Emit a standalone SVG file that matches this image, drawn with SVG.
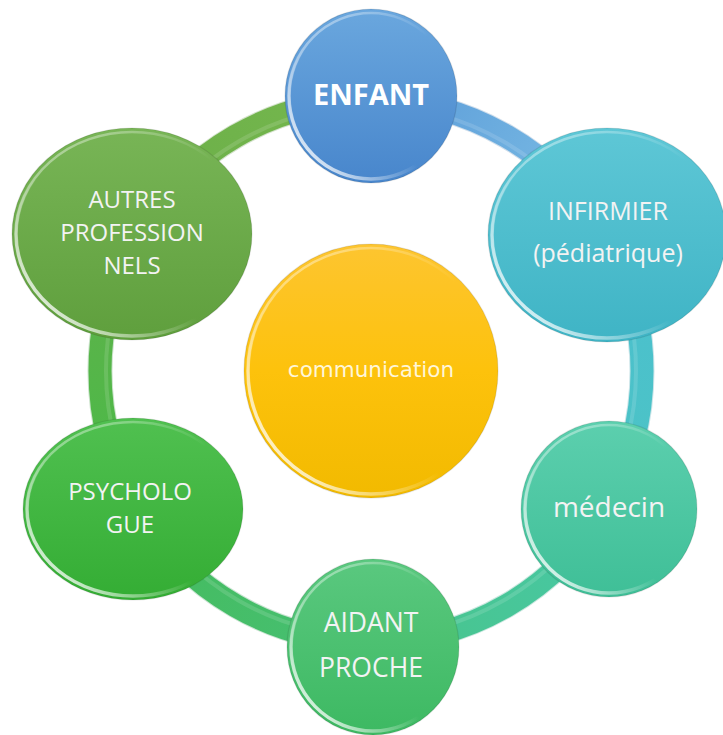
<svg xmlns="http://www.w3.org/2000/svg" width="723" height="735" viewBox="0 0 723 735">
<style>
.ring-edge{fill:none;stroke-width:25;stroke-opacity:0.25}
.ring{fill:none;stroke-width:23}
.ring-hi{fill:none;stroke:#ffffff;stroke-width:4;stroke-opacity:0.13}
.edge{fill:none;stroke:#000000;stroke-opacity:0.1;stroke-width:1.2}
.rim{fill:none;stroke:url(#rimG);stroke-width:3.5}
.rimtop{fill:none;stroke:url(#rimTop);stroke-width:2.5}
.lbl{font-family:"Open Sans","Liberation Sans",sans-serif;font-size:25px;fill:#f3f3f3;text-anchor:middle}
.bold{font-weight:bold;font-size:29px;fill:#ffffff}
.com{font-family:"DejaVu Sans","Liberation Sans",sans-serif;font-size:21.5px;fill:#fff6d8;text-anchor:middle}
</style>
<defs>
<linearGradient id="rimG" x1="0" y1="0.85" x2="0.7" y2="0.2">
<stop offset="0" stop-color="#ffffff" stop-opacity="0.95"/>
<stop offset="0.35" stop-color="#ffffff" stop-opacity="0.3"/>
<stop offset="0.55" stop-color="#ffffff" stop-opacity="0"/>
</linearGradient>
<linearGradient id="rimTop" x1="0.3" y1="0" x2="0.6" y2="0.35">
<stop offset="0" stop-color="#ffffff" stop-opacity="0.4"/>
<stop offset="1" stop-color="#ffffff" stop-opacity="0"/>
</linearGradient>
<linearGradient id="gEnf" x1="0" y1="0" x2="0" y2="1"><stop offset="0" stop-color="#6aa7de"/><stop offset="1" stop-color="#4886cc"/></linearGradient>
<linearGradient id="gInf" x1="0" y1="0" x2="0" y2="1"><stop offset="0" stop-color="#5ec7d6"/><stop offset="1" stop-color="#3fb4c5"/></linearGradient>
<linearGradient id="gMed" x1="0" y1="0" x2="0" y2="1"><stop offset="0" stop-color="#5ccfae"/><stop offset="1" stop-color="#3fbf97"/></linearGradient>
<linearGradient id="gAid" x1="0" y1="0" x2="0" y2="1"><stop offset="0" stop-color="#5ac87f"/><stop offset="1" stop-color="#3db962"/></linearGradient>
<linearGradient id="gPsy" x1="0" y1="0" x2="0" y2="1"><stop offset="0" stop-color="#50c050"/><stop offset="1" stop-color="#34ad34"/></linearGradient>
<linearGradient id="gAut" x1="0" y1="0" x2="0" y2="1"><stop offset="0" stop-color="#78b556"/><stop offset="1" stop-color="#5f9f3d"/></linearGradient>
<linearGradient id="gCom" x1="0" y1="0" x2="0" y2="1"><stop offset="0" stop-color="#fdc530"/><stop offset="0.5" stop-color="#fdc20c"/><stop offset="1" stop-color="#f2ba00"/></linearGradient>
<linearGradient id="s0" gradientUnits="userSpaceOnUse" x1="371" y1="100" x2="605.7" y2="235.5"><stop offset="0" stop-color="#5b9bd8"/><stop offset="1" stop-color="#7ec0e6"/></linearGradient>
<linearGradient id="s1" gradientUnits="userSpaceOnUse" x1="605.7" y1="235.5" x2="605.7" y2="506.5"><stop offset="0" stop-color="#4bbfd0"/><stop offset="1" stop-color="#4cc4c4"/></linearGradient>
<linearGradient id="s2" gradientUnits="userSpaceOnUse" x1="605.7" y1="506.5" x2="371" y2="642"><stop offset="0" stop-color="#48c8a6"/><stop offset="1" stop-color="#48c48a"/></linearGradient>
<linearGradient id="s3" gradientUnits="userSpaceOnUse" x1="371" y1="642" x2="136.3" y2="506.5"><stop offset="0" stop-color="#46c074"/><stop offset="1" stop-color="#45bb5c"/></linearGradient>
<linearGradient id="s4" gradientUnits="userSpaceOnUse" x1="136.3" y1="506.5" x2="136.3" y2="235.5"><stop offset="0" stop-color="#48bb48"/><stop offset="1" stop-color="#62b04a"/></linearGradient>
<linearGradient id="s5" gradientUnits="userSpaceOnUse" x1="136.3" y1="235.5" x2="371" y2="100"><stop offset="0" stop-color="#6aae48"/><stop offset="1" stop-color="#76b84e"/></linearGradient>
</defs>
<rect width="723" height="735" fill="#ffffff"/>
<g id="connectors">
<path class="ring-edge" stroke="#3a78b0" d="M371,100 A271,271 0 0 1 605.7,235.5"/>
<path class="ring" stroke="url(#s0)" d="M371,100 A271,271 0 0 1 605.7,235.5"/>
<path class="ring-hi" d="M371,106 A265,265 0 0 1 600.5,238.5"/>
<path class="ring-edge" stroke="#2f97a6" d="M605.7,235.5 A271,271 0 0 1 605.7,506.5"/>
<path class="ring" stroke="url(#s1)" d="M605.7,235.5 A271,271 0 0 1 605.7,506.5"/>
<path class="ring-hi" d="M600.5,238.5 A265,265 0 0 1 600.5,503.5"/>
<path class="ring-edge" stroke="#2c9f80" d="M605.7,506.5 A271,271 0 0 1 371,642"/>
<path class="ring" stroke="url(#s2)" d="M605.7,506.5 A271,271 0 0 1 371,642"/>
<path class="ring-hi" d="M600.5,503.5 A265,265 0 0 1 371,636"/>
<path class="ring-edge" stroke="#2a954b" d="M371,642 A271,271 0 0 1 136.3,506.5"/>
<path class="ring" stroke="url(#s3)" d="M371,642 A271,271 0 0 1 136.3,506.5"/>
<path class="ring-hi" d="M371,636 A265,265 0 0 1 141.5,503.5"/>
<path class="ring-edge" stroke="#2f8f2f" d="M136.3,506.5 A271,271 0 0 1 136.3,235.5"/>
<path class="ring" stroke="url(#s4)" d="M136.3,506.5 A271,271 0 0 1 136.3,235.5"/>
<path class="ring-hi" d="M141.5,503.5 A265,265 0 0 1 141.5,238.5"/>
<path class="ring-edge" stroke="#4f8a30" d="M136.3,235.5 A271,271 0 0 1 371,100"/>
<path class="ring" stroke="url(#s5)" d="M136.3,235.5 A271,271 0 0 1 371,100"/>
<path class="ring-hi" d="M141.5,238.5 A265,265 0 0 1 371,106"/>
</g>
<g id="node-communication">
<circle cx="371" cy="371" r="127" fill="url(#gCom)"/>
<circle class="edge" cx="371" cy="371" r="127"/>
<circle class="rim" cx="371" cy="371" r="123"/>
<circle class="rimtop" cx="371" cy="371" r="123"/>
<text class="com" x="371" y="377">communication</text>
</g>
<g id="node-enfant">
<ellipse cx="371" cy="96" rx="86" ry="87" fill="url(#gEnf)"/>
<ellipse class="edge" cx="371" cy="96" rx="86" ry="87"/>
<ellipse class="rim" cx="371" cy="96" rx="82" ry="83"/>
<ellipse class="rimtop" cx="371" cy="96" rx="82" ry="83"/>
<text class="lbl bold" x="371" y="105">ENFANT</text>
</g>
<g id="node-infirmier">
<ellipse cx="607" cy="235" rx="119" ry="107" fill="url(#gInf)"/>
<ellipse class="edge" cx="607" cy="235" rx="119" ry="107"/>
<ellipse class="rim" cx="607" cy="235" rx="115" ry="103"/>
<ellipse class="rimtop" cx="607" cy="235" rx="115" ry="103"/>
<text class="lbl" x="608" y="220">INFIRMIER</text>
<text class="lbl" x="608" y="262">(pédiatrique)</text>
</g>
<g id="node-medecin">
<circle cx="609" cy="509" r="88" fill="url(#gMed)"/>
<circle class="edge" cx="609" cy="509" r="88"/>
<circle class="rim" cx="609" cy="509" r="84"/>
<circle class="rimtop" cx="609" cy="509" r="84"/>
<text class="lbl" x="609" y="517" style="font-size:28px">médecin</text>
</g>
<g id="node-aidant">
<ellipse cx="373" cy="647" rx="86" ry="88" fill="url(#gAid)"/>
<ellipse class="edge" cx="373" cy="647" rx="86" ry="88"/>
<ellipse class="rim" cx="373" cy="647" rx="82" ry="84"/>
<ellipse class="rimtop" cx="373" cy="647" rx="82" ry="84"/>
<text class="lbl" x="371" y="632" style="font-size:26.5px">AIDANT</text>
<text class="lbl" x="371" y="677" style="font-size:26.5px">PROCHE</text>
</g>
<g id="node-psychologue">
<ellipse cx="133" cy="509" rx="110" ry="91" fill="url(#gPsy)"/>
<ellipse class="edge" cx="133" cy="509" rx="110" ry="91"/>
<ellipse class="rim" cx="133" cy="509" rx="106" ry="87"/>
<ellipse class="rimtop" cx="133" cy="509" rx="106" ry="87"/>
<text class="lbl" x="130" y="500" style="font-size:24px">PSYCHOLO</text>
<text class="lbl" x="130" y="533" style="font-size:24px">GUE</text>
</g>
<g id="node-autres">
<ellipse cx="132" cy="234" rx="120" ry="106" fill="url(#gAut)"/>
<ellipse class="edge" cx="132" cy="234" rx="120" ry="106"/>
<ellipse class="rim" cx="132" cy="234" rx="116" ry="102"/>
<ellipse class="rimtop" cx="132" cy="234" rx="116" ry="102"/>
<text class="lbl" x="132" y="208" style="font-size:24px">AUTRES</text>
<text class="lbl" x="132" y="241" style="font-size:24px">PROFESSION</text>
<text class="lbl" x="132" y="274" style="font-size:24px">NELS</text>
</g>
</svg>
